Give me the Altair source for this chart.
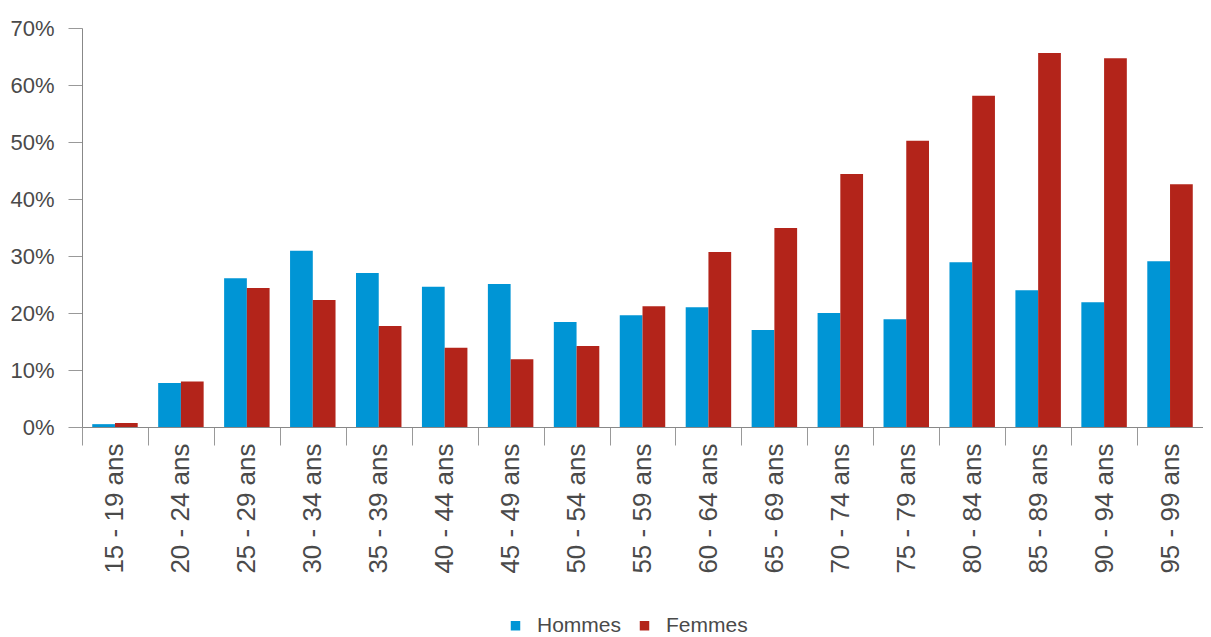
import altair as alt
import pandas as pd

categories = ["15 - 19 ans", "20 - 24 ans", "25 - 29 ans", "30 - 34 ans", "35 - 39 ans",
              "40 - 44 ans", "45 - 49 ans", "50 - 54 ans", "55 - 59 ans", "60 - 64 ans",
              "65 - 69 ans", "70 - 74 ans", "75 - 79 ans", "80 - 84 ans", "85 - 89 ans",
              "90 - 94 ans", "95 - 99 ans"]
hommes = [0.5, 7.7, 26.1, 30.9, 27.0, 24.6, 25.1, 18.4, 19.6, 21.0, 17.0, 20.0, 18.9, 28.9, 24.0, 21.9, 29.1]
femmes = [0.7, 8.0, 24.4, 22.3, 17.7, 13.9, 11.9, 14.2, 21.2, 30.7, 34.9, 44.4, 50.2, 58.1, 65.6, 64.7, 42.6]
series = ["Hommes", "Femmes"]
colors = ["#0095D5", "#B3241A"]
y_ticks = [0, 0.1, 0.2, 0.3, 0.4, 0.5, 0.6, 0.7]

rows = []
for c, h, f in zip(categories, hommes, femmes):
    rows.append({"age": c, "sexe": "Hommes", "val": h / 100})
    rows.append({"age": c, "sexe": "Femmes", "val": f / 100})
df = pd.DataFrame(rows)

FONT = "Liberation Sans"

chart = alt.Chart(df).mark_bar().encode(
    x=alt.X("age:N", sort=categories, title=None,
            scale=alt.Scale(paddingInner=0, paddingOuter=0),
            axis=alt.Axis(labelAngle=-90, labelFontSize=26, labelColor="#4a4a4a", labelFont=FONT,
                          tickBand="extent", tickSize=18, tickColor="#999999", domainColor="#888888",
                          labelPadding=-2, labelAlign="right", labelBaseline="middle")),
    xOffset=alt.XOffset("sexe:N", sort=series,
                        scale=alt.Scale(paddingInner=0, paddingOuter=0.45)),
    y=alt.Y("val:Q", title=None,
            scale=alt.Scale(domain=[0, 0.7], nice=False),
            axis=alt.Axis(format=".0%", values=y_ticks, grid=False, labelFontSize=22,
                          labelColor="#4a4a4a", labelFont=FONT, tickSize=14, tickColor="#999999",
                          domainColor="#888888", labelPadding=14)),
    fill=alt.Fill("sexe:N", sort=series, scale=alt.Scale(domain=series, range=colors),
                  legend=alt.Legend(title=None, orient="none", direction="horizontal",
                                    legendX=423, legendY=587, symbolType="square",
                                    symbolSize=90, symbolStrokeWidth=0, labelFontSize=21,
                                    labelFont=FONT, labelColor="#4a4a4a", labelOffset=11,
                                    columnPadding=12)),
).properties(
    width=1121, height=399,
    autosize=alt.AutoSizeParams(type="none"),
    padding={"left": 74, "top": 20, "right": 0, "bottom": 209},
).configure_view(stroke=None)

chart.save("out.html", embed_options={"renderer": "svg", "actions": False})
